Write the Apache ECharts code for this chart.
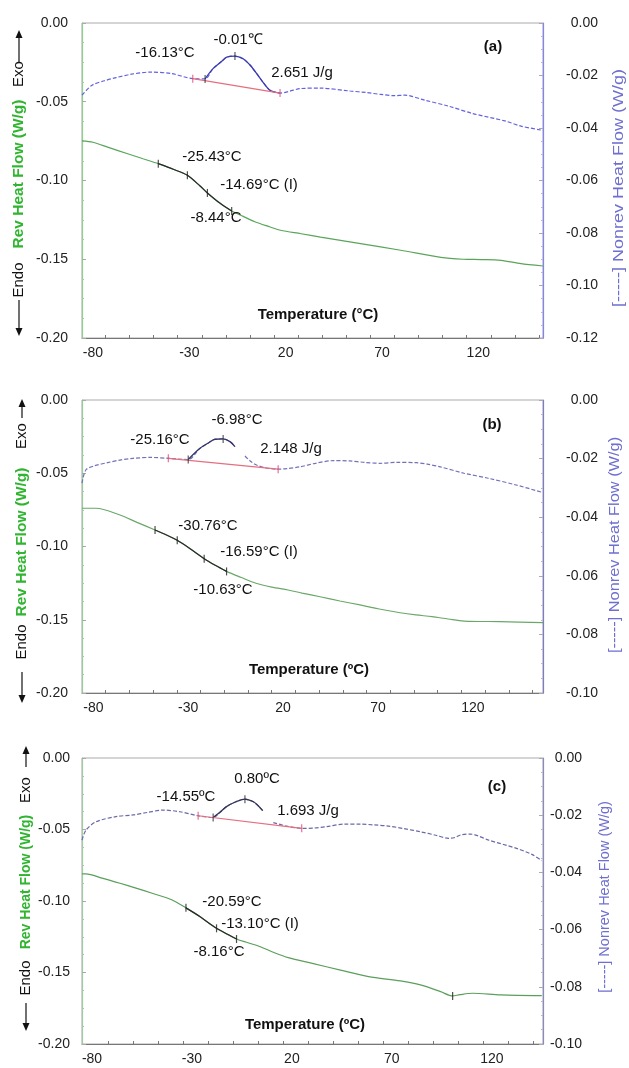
<!DOCTYPE html>
<html><head><meta charset="utf-8">
<script src="https://cdn.jsdelivr.net/npm/echarts@6/dist/echarts.min.js"></script>
<style>html,body{margin:0;padding:0;background:#fff}#c{width:629px;height:1068px}</style>
</head><body><div id="c"></div>
<script>
// ================= DATA =================
const xTickLabels = [-80, -30, 20, 70, 120];
const abMinorTicks = [-73.5,-61,-48.5,-36,-23.5,-11,1.5,14,26.5,39,51.5,64,76.5,89,101.5,114,126.5,139,151.5];
const cMinorTicks = [-71.7,-59.2,-46.7,-34.2,-21.7,-9.2,3.3,15.8,28.3,40.8,53.3,65.8,78.3,90.8,103.3,115.8,128.3,140.8];

// panel (a)
const aRev = [[-85.7,-0.0748],[-80,-0.0757],[-72,-0.0790],[-62,-0.0830],[-54,-0.0862],[-46.1,-0.0893],[-38,-0.0930],[-31.0,-0.0967],[-24.4,-0.1035],[-20.6,-0.1079],[-14.0,-0.1145],[-8.0,-0.1194],[-2,-0.1228],[4,-0.1262],[12,-0.1295],[17.3,-0.1316],[28,-0.1338],[38.1,-0.1359],[58.9,-0.1401],[79.7,-0.1443],[100.6,-0.1488],[112,-0.1500],[121.4,-0.1502],[131.8,-0.1507],[142.2,-0.1528],[153.6,-0.1543]];
const aRevTicks = [[-46.1,-0.0893],[-31.0,-0.0967],[-20.6,-0.1079],[-8.0,-0.1194]];
const aNonrev = [[-85.7,-0.0275],[-80.5,-0.0237],[-74,-0.0220],[-68,-0.0208],[-60,-0.0195],[-50.4,-0.0187],[-39,-0.0193],[-28.2,-0.0212],[-21.8,-0.0213],[-17.7,-0.0174],[-13,-0.0145],[-10.6,-0.0130],[-6.3,-0.0126],[-2.1,-0.0136],[1.5,-0.0160],[5.0,-0.0193],[8.5,-0.0228],[11.9,-0.0256],[17.1,-0.0267],[22,-0.0260],[27.5,-0.0250],[37.9,-0.0248],[53.5,-0.0259],[62,-0.0265],[69.3,-0.0272],[76.6,-0.0277],[81.8,-0.0275],[92.2,-0.0294],[104.7,-0.0317],[117.2,-0.0345],[133.8,-0.0373],[142.2,-0.0393],[153.6,-0.0409]];
const aNonrevTicks = [[-21.8,-0.0213],[-6.3,-0.0126]];
const aBaseline = [[-28.2,-0.0212],[17.1,-0.0267]];

// panel (b)
const bRev = [[-86,-0.0739],[-78.6,-0.0739],[-66,-0.0785],[-57,-0.0835],[-47.5,-0.0887],[-42,-0.0918],[-35.8,-0.0958],[-29,-0.1015],[-21.6,-0.1083],[-15.5,-0.1130],[-9.8,-0.1170],[-2,-0.1212],[5.7,-0.1251],[14,-0.1277],[22.6,-0.1297],[30,-0.1318],[39.5,-0.1343],[50,-0.1372],[60.6,-0.1399],[70,-0.1425],[81.7,-0.1452],[90,-0.1467],[98.5,-0.1479],[107,-0.1495],[115.4,-0.1509],[134.4,-0.1513],[157,-0.1520]];
const bRevTicks = [[-47.5,-0.0887],[-35.8,-0.0958],[-21.6,-0.1083],[-9.8,-0.1170]];
const bNonrev = [[-86,-0.0284],[-84,-0.0239],[-79.7,-0.0225],[-72,-0.0213],[-66,-0.0205],[-59.1,-0.0199],[-50,-0.0196],[-40.5,-0.0199],[-30.0,-0.0203],[-23.8,-0.0165],[-19,-0.0145],[-15.9,-0.0134],[-11.6,-0.0133],[-8,-0.0142],[-5.4,-0.0159],null,[-0.1,-0.0191],[3,-0.0210],[6.0,-0.0222],[11,-0.0232],[17.4,-0.0236],[22,-0.0234],[28.9,-0.0228],[37,-0.0216],[46.4,-0.0207],[55,-0.0208],[63,-0.0213],[71.1,-0.0216],[80,-0.0213],[90.1,-0.0214],[96,-0.0219],[102.8,-0.0228],[115.4,-0.0250],[128.1,-0.0267],[142.8,-0.0290],[157,-0.0316]];
const bNonrevTicks = [[-30.0,-0.0203],[-11.6,-0.0133]];
const bBaseline = [[-40.5,-0.0199],[17.4,-0.0236]];

// panel (c)
const cRev = [[-85,-0.0811],[-83,-0.0811],[-75,-0.0840],[-66,-0.0876],[-58,-0.0910],[-49.9,-0.0946],[-39.9,-0.0993],[-33,-0.1048],[-25.9,-0.1110],[-17.7,-0.1191],[-7.7,-0.1266],[-2,-0.1292],[4.2,-0.1320],[11,-0.1360],[18.2,-0.1396],[30.2,-0.1436],[44.3,-0.1483],[58.3,-0.1529],[74.3,-0.1559],[84.3,-0.1587],[94.4,-0.1634],[100.4,-0.1664],[104,-0.1655],[110.4,-0.1645],[124.4,-0.1657],[145,-0.1662]];
const cRevTicks = [[-33,-0.1048],[-17.7,-0.1191],[-7.7,-0.1266],[100.4,-0.1664]];
const cNonrev = [[-85,-0.0287],[-83,-0.0252],[-78,-0.0223],[-68,-0.0205],[-59.4,-0.0199],[-52,-0.0190],[-44.4,-0.0182],[-36,-0.0188],[-26.9,-0.0202],[-19.4,-0.0208],[-16,-0.0190],[-12.7,-0.0170],[-8,-0.0153],[-3.5,-0.0144],[0.7,-0.0153],[3,-0.0166],[5.4,-0.0184],null,[10.7,-0.0226],[17.4,-0.0238],[24.9,-0.0246],[31,-0.0245],[37.4,-0.0240],[46.3,-0.0231],[54.3,-0.0231],[61,-0.0234],[68.3,-0.0238],[76,-0.0247],[84.3,-0.0258],[92,-0.0270],[98.4,-0.0281],[101.5,-0.0278],[104.4,-0.0269],[109.4,-0.0266],[113,-0.0272],[118.4,-0.0287],[132.4,-0.0316],[140,-0.0337],[145,-0.0359]];
const cNonrevTicks = [[-19.4,-0.0208],[-3.5,-0.0144]];
const cBaseline = [[-26.9,-0.0202],[24.9,-0.0246]];

// annotation texts
const aTexts = ['-16.13°C','-0.01℃','2.651 J/g','(a)','-25.43°C','-14.69°C (I)','-8.44°C','Temperature (°C)'];
const bTexts = ['-25.16°C','-6.98°C','2.148 J/g','(b)','-30.76°C','-16.59°C (I)','-10.63°C','Temperature (ºC)'];
const cTexts = ['-14.55ºC','0.80ºC','1.693 J/g','(c)','-20.59°C','-13.10°C (I)','-8.16°C','Temperature (ºC)'];
const leftTitle = 'Rev Heat Flow (W/g)';
const rightTitle = '[-----] Nonrev Heat Flow (W/g)';

// ================= LAYOUT / STYLE =================
const FONT = "'Liberation Sans', Arial, sans-serif";
const panels = [
  {grid:{left:82,right:86,top:23,height:315}, xMin:-85.7, xMax:153.6, rMin:-0.12, ticks:abMinorTicks,
   rev:aRev, revTicks:aRevTicks, revDark:[-46.1,-8.0], non:aNonrev, nonTicks:aNonrevTicks, nonDark:[-21.8,17.1], base:aBaseline,
   green:'#5aa55a', blue:'#6262e0', blueDark:'#3a3ab0', axisG:'#8fd08f', axisB:'#8484ee', rLabelMargin:55, lLabelMargin:14,
   texts:aTexts, pos:[[165,53],[238,40],[302,73],[493,47],[212,157],[259,185],[216,218],[318,315]],
   deco:{x:19, head:30, lineEnd:62, exo:74, title:174, endo:280, dStart:300, dHead:336, rx:619, ry:188, lSize:15.5, rSize:15, rScale:1.2}},
  {grid:{left:82,right:86,top:400,height:293}, xMin:-86, xMax:157, rMin:-0.10, ticks:abMinorTicks,
   rev:bRev, revTicks:bRevTicks, revDark:[-47.5,-9.8], non:bNonrev, nonTicks:bNonrevTicks, nonDark:[-30,-5.4], base:bBaseline,
   green:'#6aa86a', blue:'#7272b8', blueDark:'#33336a', axisG:'#99cc99', axisB:'#7c7cc8', rLabelMargin:55, lLabelMargin:14,
   texts:bTexts, pos:[[160,440],[237,420],[291,449],[492,425],[208,526],[259,552],[223,590],[309,670]],
   deco:{x:22, head:399, lineEnd:418, exo:436, title:542, endo:642, dStart:672, dHead:703, rx:615, ry:545, lSize:15.5, rSize:15, rScale:1.09}},
  {grid:{left:82,right:86,top:758,height:286}, xMin:-85, xMax:145.6, rMin:-0.10, ticks:cMinorTicks,
   rev:cRev, revTicks:cRevTicks, revDark:[-33,-7.7], non:cNonrev, nonTicks:cNonrevTicks, nonDark:[-19.4,5.4], base:cBaseline,
   green:'#5c9e5c', blue:'#6a6aa8', blueDark:'#333355', axisG:'#a0cca0', axisB:'#8a8ac0', rLabelMargin:39, lLabelMargin:12,
   texts:cTexts, pos:[[186,797],[257,779],[308,811],[497,787],[232,902],[260,924],[219,952],[305,1025]],
   deco:{x:26, head:746, lineEnd:767, exo:790, title:882, endo:978, dStart:1003, dHead:1031, rx:605, ry:897, lSize:14, rSize:14.5, rScale:1}}
];

function gaps(arr){ return arr.map(p => p ? p : ['-','-']); }
function seg(arr, r){ return arr.filter(p => p && p[0] >= r[0]-1e-9 && p[0] <= r[1]+1e-9); }
const fmt = v => (Math.abs(v) < 1e-9 ? 0 : v).toFixed(2);

const grid=[], xAxis=[], yAxis=[], series=[], graphic=[];
panels.forEach((p,i) => {
  grid.push(Object.assign({show:true, borderColor:'#aaaaaa', borderWidth:1, backgroundColor:'transparent'}, p.grid));
  xAxis.push({gridIndex:i, type:'value', min:p.xMin, max:p.xMax,
    axisLine:{show:true, onZero:false, lineStyle:{color:'#777', width:1}},
    axisTick:{show:true, inside:true, length:3, customValues:p.ticks, lineStyle:{color:'#777'}},
    axisLabel:{customValues:xTickLabels, fontSize:14, fontFamily:FONT, color:'#222', margin:8, formatter:v=>String(v)},
    splitLine:{show:false}});
  yAxis.push({gridIndex:i, type:'value', min:-0.2, max:0, interval:0.05, position:'left',
    axisLine:{show:true, onZero:false, lineStyle:{color:p.axisG, width:1.2}},
    axisTick:{show:true, inside:true, length:4, lineStyle:{color:'#aaa'}},
    minorTick:{show:true, splitNumber:4, length:2, lineStyle:{color:'#bbb'}},
    axisLabel:{formatter:fmt, fontSize:14, fontFamily:FONT, color:'#222', margin:p.lLabelMargin},
    splitLine:{show:false}});
  yAxis.push({gridIndex:i, type:'value', min:p.rMin, max:0, interval:0.02, position:'right',
    axisLine:{show:true, onZero:false, lineStyle:{color:p.axisB, width:1.2}},
    axisTick:{show:true, inside:true, length:4, lineStyle:{color:'#aaa'}},
    minorTick:{show:true, splitNumber:4, length:2, lineStyle:{color:'#bbb'}},
    axisLabel:{formatter:fmt, fontSize:14, fontFamily:FONT, color:'#222', align:'right', margin:p.rLabelMargin},
    splitLine:{show:false}});
  const yl = 2*i, yr = 2*i+1;
  series.push({type:'line', xAxisIndex:i, yAxisIndex:yl, data:p.rev, smooth:0.3, symbol:'none',
    lineStyle:{color:p.green, width:1.2}, z:2});
  series.push({type:'line', xAxisIndex:i, yAxisIndex:yl, data:seg(p.rev,p.revDark), smooth:0.3, symbol:'none',
    lineStyle:{color:'#2a2a2a', width:1.2}, z:3});
  series.push({type:'scatter', xAxisIndex:i, yAxisIndex:yl, data:p.revTicks, symbol:'rect', symbolSize:[1.2,8],
    itemStyle:{color:'#222'}, z:4});
  series.push({type:'line', xAxisIndex:i, yAxisIndex:yr, data:gaps(p.non), smooth:0.3, symbol:'none', connectNulls:false,
    lineStyle:{color:p.blue, width:1.2, type:[4,2]}, z:2});
  series.push({type:'line', xAxisIndex:i, yAxisIndex:yr, data:seg(p.non,p.nonDark), smooth:0.3, symbol:'none',
    lineStyle:{color:p.blueDark, width:1.3}, z:3});
  series.push({type:'line', xAxisIndex:i, yAxisIndex:yr, data:p.base, symbol:'none',
    lineStyle:{color:'#e56f7f', width:1.2}, z:3});
  series.push({type:'scatter', xAxisIndex:i, yAxisIndex:yr, data:p.base, symbol:'rect', symbolSize:[1.2,8],
    itemStyle:{color:'#e0507a'}, z:4});
  series.push({type:'scatter', xAxisIndex:i, yAxisIndex:yr, data:p.nonTicks, symbol:'rect', symbolSize:[1.2,8],
    itemStyle:{color:'#333'}, z:4});

  p.texts.forEach((t,k) => {
    const bold = (k===3 || k===7);
    graphic.push({type:'text', x:p.pos[k][0], y:p.pos[k][1], z:10,
      style:{text:t, fill:'#111', font:(bold?'bold ':'')+'15px '+FONT, align:'center', verticalAlign:'middle'}});
  });
  const d = p.deco;
  graphic.push({type:'line', shape:{x1:d.x, y1:d.head+6, x2:d.x, y2:d.lineEnd}, style:{stroke:'#111', lineWidth:1.2}});
  graphic.push({type:'polygon', shape:{points:[[d.x,d.head],[d.x-3.5,d.head+8],[d.x+3.5,d.head+8]]}, style:{fill:'#111'}});
  graphic.push({type:'line', shape:{x1:d.x, y1:d.dStart, x2:d.x, y2:d.dHead-6}, style:{stroke:'#111', lineWidth:1.2}});
  graphic.push({type:'polygon', shape:{points:[[d.x,d.dHead],[d.x-3.5,d.dHead-8],[d.x+3.5,d.dHead-8]]}, style:{fill:'#111'}});
  graphic.push({type:'text', x:d.x, y:d.exo, rotation:Math.PI/2, style:{text:'Exo', fill:'#111', font:'15px '+FONT, align:'center', verticalAlign:'middle'}});
  graphic.push({type:'text', x:d.x, y:d.endo, rotation:Math.PI/2, style:{text:'Endo', fill:'#111', font:'15px '+FONT, align:'center', verticalAlign:'middle'}});
  graphic.push({type:'text', x:d.x, y:d.title, rotation:Math.PI/2, style:{text:leftTitle, fill:'#2fb52f', font:'bold '+d.lSize+'px '+FONT, align:'center', verticalAlign:'middle'}});
  graphic.push({type:'text', x:d.rx, y:d.ry, rotation:Math.PI/2, scaleX:d.rScale, style:{text:rightTitle, fill:'#6f6fd0', font:d.rSize+'px '+FONT, align:'center', verticalAlign:'middle'}});
});

const chart = echarts.init(document.getElementById('c'), null, {renderer:'canvas'});
chart.setOption({animation:false, backgroundColor:'#fff', grid, xAxis, yAxis, series, graphic});
</script></body></html>
